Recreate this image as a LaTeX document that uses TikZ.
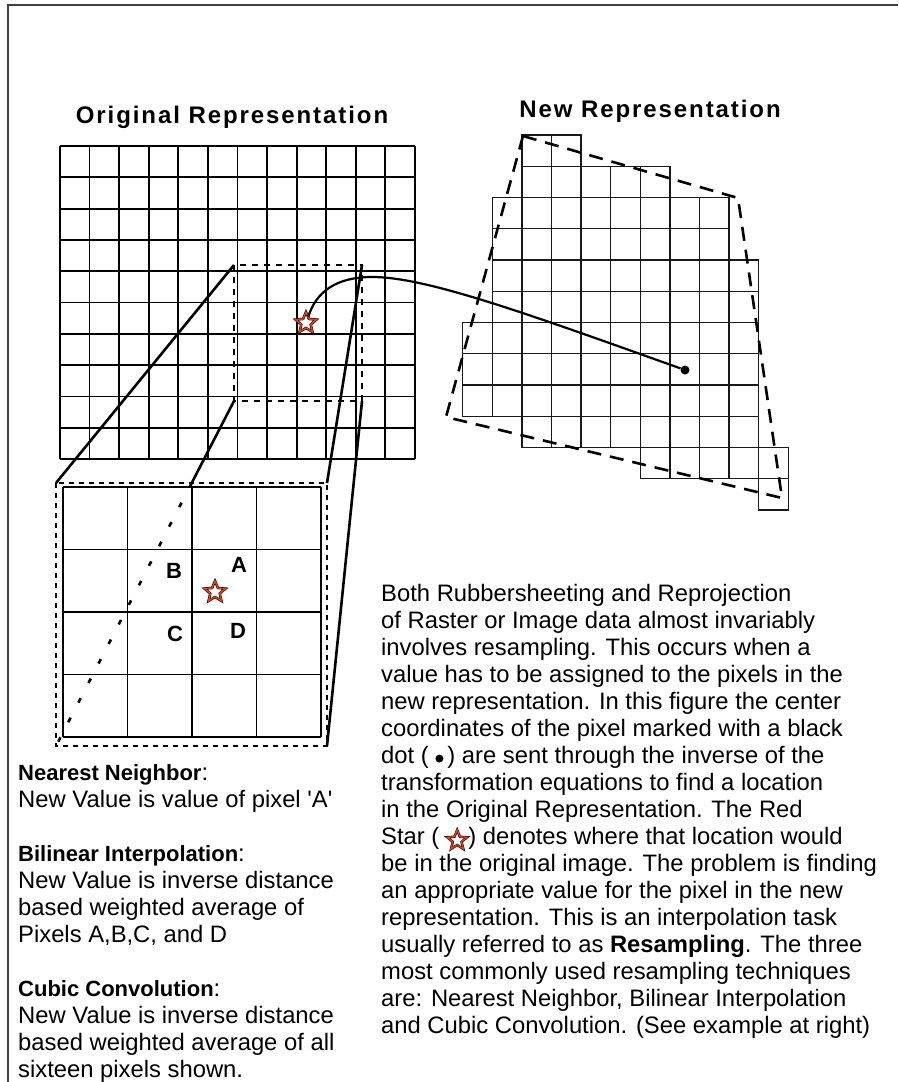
\documentclass[tikz,border=0pt]{standalone}
\usepackage{fontspec}
\setmainfont{Liberation Sans}
\newfontfamily\titlefont[LetterSpace=8]{Liberation Sans}
\usetikzlibrary{shapes.geometric, calc}

\definecolor{starred}{RGB}{222,64,30}

% small symbols used inside the paragraph
\newcommand{\inlinedot}{\tikz[baseline=-0.33em]\node[circle, fill=black, minimum width=6pt, minimum height=8pt, inner sep=0pt]{};}
\newcommand{\inlinestar}{\smash{\tikz[baseline=-0.33em]\node[star, star points=5, star point ratio=2.3, minimum size=21pt, inner sep=0pt, draw=black, line width=0.5pt, double=starred, double distance=1.4pt, fill=white]{};}}

\begin{document}
\begin{tikzpicture}[x=1pt, y=-1pt,
    frameline/.style = {draw=black!75, line width=2pt},
    gridline/.style  = {draw=black, line width=1.8pt},
    newcell/.style   = {draw=black!90, line width=1.3pt},
    link/.style      = {draw=black, line width=2.6pt},
    hidden/.style    = {link, dash pattern=on 5pt off 17pt},
    window/.style    = {draw=black, line width=1.8pt, dash pattern=on 6pt off 6pt},
    outline/.style   = {draw=black, line width=2.6pt, dash pattern=on 14pt off 9pt},
    marker/.style    = {star, star points=5, star point ratio=2.2, minimum size=22pt, inner sep=0pt,
                        draw=black, line width=0.5pt, double=starred, double distance=1.5pt, fill=white},
    pixdot/.style    = {circle, fill=black, minimum size=9pt, inner sep=0pt},
    title/.style     = {font=\titlefont\bfseries\fontsize{24}{27}\selectfont, anchor=base},
    letter/.style    = {font=\bfseries\fontsize{22}{24}\selectfont},
    body/.style      = {font=\fontsize{23.8}{27}\selectfont, align=left, anchor=north west, inner sep=0pt},
]

\useasboundingbox (0,0) rectangle (898,1082);

%% ---- Frame (only top and left edges show) ----

\draw[frameline] (8,1082) -- (8,5) -- (898,5);

%% ---- Titles ----

\node[title] (torig) at (232,123) {Original Representation};
\node[title] (tnew)  at (650,117) {New Representation};

%% ---- Original grid: 12 x 10 pixels ----

\foreach \c in {0,...,12}{ \draw[gridline] ({60+\c*29.58},146) -- ({60+\c*29.58},459); }
\foreach \r in {0,...,10}{ \draw[gridline] (60,{146+\r*31.3}) -- (415,{146+\r*31.3}); }

% 4 x 4 window round the star
\coordinate (wtl) at (234,265);
\coordinate (wtr) at (362,265);
\coordinate (wbl) at (234,401);
\coordinate (wbr) at (362,401);
\draw[window] (wtl) rectangle (wbr);

\node[marker] (ostar) at (306,323) {};

%% ---- New grid, row by row: row/first column/last column ----

\foreach \r/\a/\b in {0/2/3, 1/2/6, 2/1/8, 3/1/8, 4/1/9, 5/1/9,
                      6/0/9, 7/0/9, 8/0/9, 9/2/9, 10/6/10, 11/10/10}{
    \foreach \c in {\a,...,\b}{
        \draw[newcell] ({462.7+\c*29.6},{135+\r*31.25}) rectangle ++(29.6,31.25);
    }
}

% transformed outline of the original
\coordinate (q1) at (523,136);
\coordinate (q2) at (738,198);
\coordinate (q3) at (782,498);
\coordinate (q4) at (446,417);
\draw[outline] (q1) -- (q2) -- (q3) -- (q4) -- cycle;

\node[pixdot] (dot) at (685,370) {};

% inverse transformation path
\coordinate (bend) at (372,277);
\draw[line width=2.2pt] (ostar.70) .. controls (316,292) and (336,277) .. (bend)
    .. controls (425,277) and (520,311) .. (dot);

%% ---- Enlarged window ----

\coordinate (ztl) at (56,483);
\coordinate (ztr) at (327,483);
\coordinate (zbl) at (56,746);
\coordinate (zbr) at (327,746);
\draw[window, dash pattern=on 5pt off 5pt] (ztl) rectangle (zbr);

\foreach \i in {0,...,4}{
    \draw[gridline] ({63+\i*64.5},487) -- ({63+\i*64.5},737);
    \draw[gridline] (63,{487+\i*62.5}) -- (321,{487+\i*62.5});
}

% projection lines
\coordinate (cut) at ($(wbl)!0.238!(zbl)$);
\draw[link] (wtl) -- (ztl);
\draw[link] (wtr) -- (ztr);
\draw[link] (wbr) -- (zbr);
\draw[link] (wbl) -- (cut);
\draw[hidden] (cut) -- (zbl);

\node[marker] (zstar) at (215,592) {};
\node[letter] (pa) at (239,565) {A};
\node[letter] (pb) at (174,571) {B};
\node[letter] (pc) at (175,634) {C};
\node[letter] (pd) at (238,631) {D};

%% ---- Method notes (left) ----

\node[body] (methods) at (18,764) {%
    {\bfseries\fontsize{22}{27}\selectfont Nearest Neighbor}:\\
    New Value is value of pixel \textquotesingle A\textquotesingle\\[27pt]
    {\bfseries\fontsize{22}{27}\selectfont Bilinear Interpolation}:\\
    New Value is inverse distance\\
    based weighted average of\\
    Pixels A,B,C, and D\\[27pt]
    {\bfseries\fontsize{22}{27}\selectfont Cubic Convolution}:\\
    New Value is inverse distance\\
    based weighted average of all\\
    sixteen pixels shown.};

%% ---- Explanation (right) ----

\node[body] (explain) at (381,584) {%
    Both Rubbersheeting and Reprojection\\
    of Raster or Image data almost invariably\\
    involves resampling. This occurs when a\\
    value has to be assigned to the pixels in the\\
    new representation. In this figure the center\\
    coordinates of the pixel marked with a black\\
    dot ( \inlinedot\,) are sent through the inverse of the\\
    transformation equations to find a location\\
    in the Original Representation. The Red\\
    Star ( \inlinestar) denotes where that location would\\
    be in the original image. The problem is finding\\
    an appropriate value for the pixel in the new\\
    representation. This is an interpolation task\\
    usually referred to as \textbf{Resampling}. The three\\
    most commonly used resampling techniques\\
    are: Nearest Neighbor, Bilinear Interpolation\\
    and Cubic Convolution. (See example at right)};

\end{tikzpicture}
\end{document}
